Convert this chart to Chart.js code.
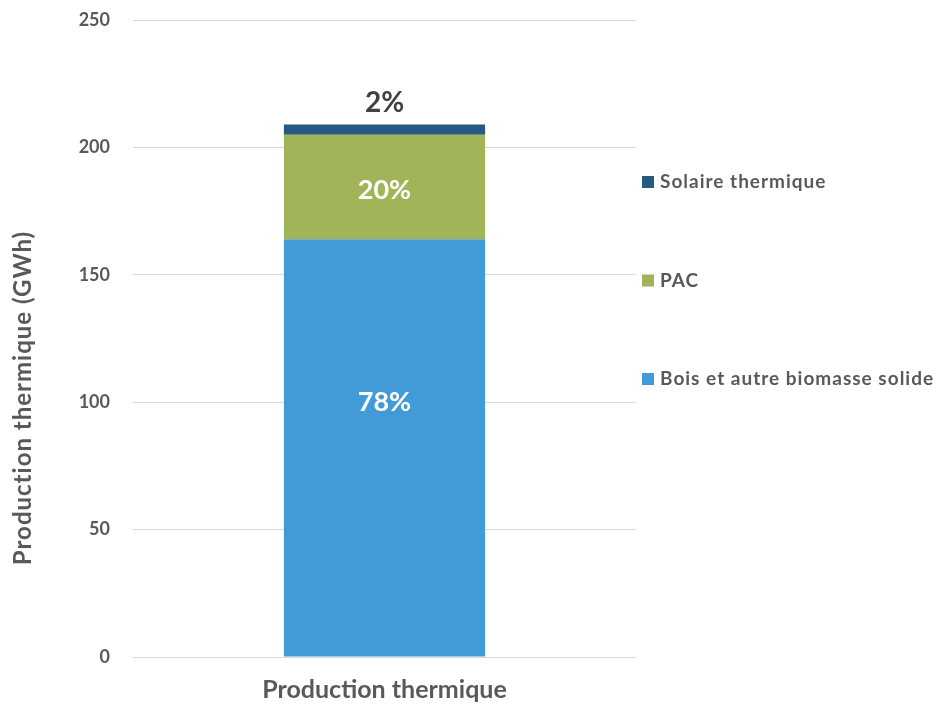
<!DOCTYPE html>
<html>
<head>
<meta charset="utf-8">
<script src="https://cdn.jsdelivr.net/npm/chart.js@4"></script>
<style>
  html, body { margin: 0; padding: 0; background: #fff; }
  #wrap { width: 943px; height: 704px; }
</style>
</head>
<body>
<div id="wrap"><canvas id="chart" width="943" height="704"></canvas></div>
<script>
// données (GWh)
const categories = ['Production thermique'];
const seriesNames = ['Bois et autre biomasse solide', 'PAC', 'Solaire thermique'];
const boisValues = [164];
const pacValues = [41];
const solaireValues = [4];
const yTicks = [0, 50, 100, 150, 200, 250];
const yTitle = 'Production thermique (GWh)';

const colors = ['#429bd6', '#a2b458', '#245b7f'];
const textGray = '#595959';
const fontFamily = 'Lato, "Open Sans", sans-serif';

// étiquettes en % sur chaque segment (décalage vertical comme dans l'original)
const labelShift = [-46, 3];
const pctLabels = {
    id: 'pctLabels',
    afterDatasetsDraw(chart) {
        const ctx = chart.ctx;
        const ds = chart.data.datasets;
        ctx.save();
        ctx.textAlign = 'center';
        ctx.textBaseline = 'middle';
        categories.forEach((c, i) => {
            const total = ds.reduce((s, d) => s + d.data[i], 0);
            ds.forEach((d, k) => {
                const bar = chart.getDatasetMeta(k).data[i];
                const pct = Math.round(d.data[i] / total * 100) + '%';
                if (k === ds.length - 1) {
                    ctx.fillStyle = '#404040';
                    ctx.font = 'bold 28px ' + fontFamily;
                    ctx.fillText(pct, bar.x, bar.y - 21);
                } else {
                    ctx.fillStyle = '#ffffff';
                    ctx.font = 'bold 27px ' + fontFamily;
                    ctx.fillText(pct, bar.x, (bar.y + bar.base) / 2 + labelShift[k]);
                }
            });
        });
        ctx.restore();
    }
};

// légende à droite + titre de l'axe Y, placés comme dans l'original
const sideText = {
    id: 'sideText',
    afterDraw(chart) {
        const ctx = chart.ctx;
        const ds = chart.data.datasets;
        const x = chart.chartArea.right + 6;
        let y = 182;
        ctx.save();
        ctx.font = 'bold 19px ' + fontFamily;
        ctx.letterSpacing = '1px';
        ctx.textBaseline = 'middle';
        ctx.textAlign = 'left';
        for (let k = ds.length - 1; k >= 0; k--) {
            ctx.fillStyle = ds[k].backgroundColor;
            ctx.fillRect(x, y - 6, 12, 12);
            ctx.fillStyle = textGray;
            ctx.fillText(ds[k].label, x + 18, y);
            y += 98.5;
        }
        // titre Y
        ctx.translate(23, 398);
        ctx.rotate(-Math.PI / 2);
        ctx.textAlign = 'center';
        ctx.font = 'bold 24px ' + fontFamily;
        ctx.fillText(yTitle, 0, 0);
        ctx.restore();
    }
};

const ctx = document.getElementById('chart').getContext('2d');
new Chart(ctx, {
    type: 'bar',
    data: {
        labels: categories,
        datasets: [
            { label: seriesNames[0], data: boisValues, backgroundColor: colors[0] },
            { label: seriesNames[1], data: pacValues, backgroundColor: colors[1] },
            { label: seriesNames[2], data: solaireValues, backgroundColor: colors[2] }
        ]
    },
    options: {
        responsive: false,
        animation: false,
        layout: { padding: { top: 20, right: 307, left: 0, bottom: 0 } },
        datasets: {
            bar: { barPercentage: 0.4, categoryPercentage: 1, borderWidth: 0 }
        },
        plugins: {
            legend: { display: false },
            tooltip: { enabled: false }
        },
        scales: {
            x: {
                stacked: true,
                grid: { display: false },
                border: { display: false },
                ticks: {
                    color: textGray,
                    font: { family: fontFamily, size: 25, weight: 'bold' },
                    padding: 10
                },
                afterFit: s => { s.height = 47; s.paddingTop = 0; }
            },
            y: {
                stacked: true,
                min: 0,
                max: 250,
                afterBuildTicks: s => { s.ticks = yTicks.map(v => ({ value: v })); },
                grid: { color: '#d9d9d9', lineWidth: 1, drawTicks: false },
                border: { display: false },
                ticks: {
                    color: textGray,
                    font: { family: fontFamily, size: 18, weight: 'bold' },
                    padding: 23
                },
                afterFit: s => { s.width = 133; s.paddingTop = 0; s.paddingBottom = 0; }
            }
        }
    },
    plugins: [pctLabels, sideText]
});
</script>
</body>
</html>
